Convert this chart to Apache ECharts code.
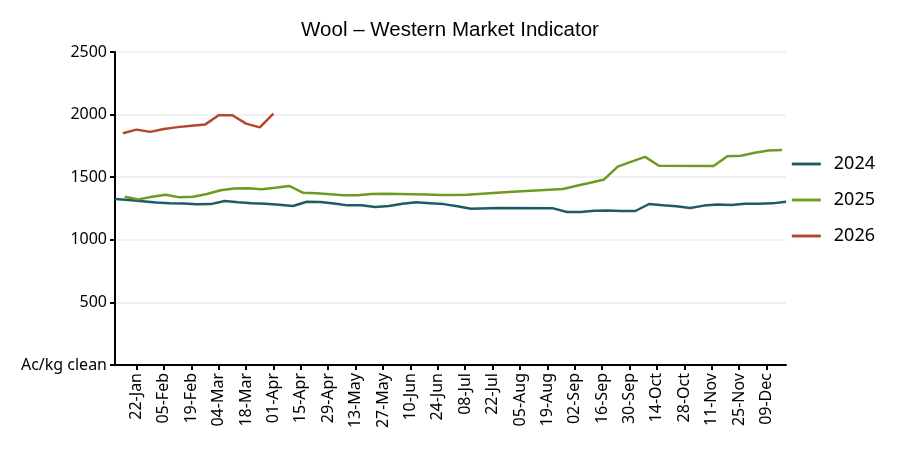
<!DOCTYPE html>
<html>
<head>
<meta charset="utf-8">
<script src="https://cdn.jsdelivr.net/npm/echarts@6/dist/echarts.min.js"></script>
<style>html,body{margin:0;padding:0;background:#fff}#c{width:900px;height:450px}</style>
</head>
<body>
<div id="c"></div>
<script>
// ---- data (dates mapped onto a common calendar year) ----
const xTickLabels = ['22-Jan','05-Feb','19-Feb','04-Mar','18-Mar','01-Apr','15-Apr','29-Apr','13-May','27-May','10-Jun','24-Jun',
  '08-Jul','22-Jul','05-Aug','19-Aug','02-Sep','16-Sep','30-Sep','14-Oct','28-Oct','11-Nov','25-Nov','09-Dec'];
const xMinDate = '11-Jan';
const xMaxDate = '19-Dec';

const dates2024 = ['11-Jan','18-Jan','25-Jan','01-Feb','08-Feb','15-Feb','22-Feb','29-Feb','07-Mar','14-Mar','21-Mar','28-Mar',
  '04-Apr','11-Apr','18-Apr','25-Apr','02-May','09-May','16-May','23-May','30-May','06-Jun','13-Jun','20-Jun','27-Jun',
  '04-Jul','11-Jul','25-Jul','22-Aug','29-Aug','05-Sep','12-Sep','19-Sep','26-Sep','03-Oct','10-Oct','17-Oct','24-Oct',
  '31-Oct','07-Nov','14-Nov','21-Nov','28-Nov','05-Dec','12-Dec','19-Dec'];
const values2024 = [1326,1318,1308,1298,1292,1290,1283,1285,1310,1300,1291,1287,
  1280,1270,1304,1302,1290,1275,1276,1262,1270,1288,1299,1292,1285,
  1268,1248,1254,1251,1222,1222,1232,1235,1230,1230,1286,1276,1268,
  1254,1273,1281,1278,1288,1288,1291,1304];

const dates2025 = ['16-Jan','23-Jan','30-Jan','06-Feb','13-Feb','20-Feb','27-Feb','05-Mar','12-Mar','19-Mar','26-Mar',
  '02-Apr','09-Apr','16-Apr','23-Apr','30-Apr','07-May','14-May','21-May','28-May','04-Jun','11-Jun','18-Jun','25-Jun',
  '02-Jul','09-Jul','30-Jul','27-Aug','03-Sep','10-Sep','17-Sep','24-Sep','01-Oct','08-Oct','15-Oct','12-Nov',
  '19-Nov','26-Nov','03-Dec','10-Dec','17-Dec'];
const values2025 = [1344,1323,1344,1360,1339,1344,1366,1396,1410,1411,1403,
  1416,1430,1376,1372,1364,1355,1355,1366,1368,1366,1364,1362,1358,
  1358,1360,1382,1406,1432,1455,1482,1584,1624,1662,1592,1589,
  1668,1672,1695,1714,1717];

const dates2026 = ['15-Jan','22-Jan','29-Jan','05-Feb','12-Feb','19-Feb','26-Feb','04-Mar','11-Mar','18-Mar','25-Mar','01-Apr'];
const values2026 = [1851,1880,1862,1885,1900,1910,1920,1995,1995,1928,1898,2008];

const seriesNames = ['2024','2025','2026'];
const yTicks = [0,500,1000,1500,2000,2500];
const yZeroLabel = 'Ac/kg clean';
const titleText = 'Wool – Western Market Indicator';

// ---- helpers ----
const MON = ['Jan','Feb','Mar','Apr','May','Jun','Jul','Aug','Sep','Oct','Nov','Dec'];
function ts(s){ const p = s.split('-'); return Date.UTC(2024, MON.indexOf(p[1]), +p[0]); }
function fmt(v){ const d = new Date(v); const dd = String(d.getUTCDate()).padStart(2,'0'); return dd + '-' + MON[d.getUTCMonth()]; }
function pairs(ds, vs){ return ds.map((d,i)=>[ts(d), vs[i]]); }

const colors = ['#1d5c63','#6e9a22','#b4462c'];
const FONT = '"Noto Sans", "Open Sans", sans-serif';
const tickVals = xTickLabels.map(ts);
const lineIcon = 'path://M0,0H30V3H0Z';

const chart = echarts.init(document.getElementById('c'), null, {renderer:'canvas'});
chart.setOption({
  animation:false,
  backgroundColor:'#fff',
  color: colors,
  title:{ text:titleText, left:'center', top:15, textStyle:{ fontFamily:'"Liberation Sans", Arial, sans-serif', fontSize:20.5, fontWeight:'normal', color:'#000' } },
  legend:{ orient:'vertical', right:20, top:150, itemGap:18, itemWidth:29, itemHeight:3,
    data: seriesNames.map(n=>({ name:n, icon: lineIcon })),
    textStyle:{ fontFamily:FONT, fontSize:18, color:'#000', padding:[0,0,0,8] } },
  grid:{ left:115, right:114, top:52, bottom:85, containLabel:false },
  xAxis:{ type:'value', min:ts(xMinDate), max:ts(xMaxDate),
    axisLine:{ show:true, onZero:false, lineStyle:{ color:'#000', width:2 } },
    axisTick:{ show:true, customValues: tickVals, length:5, lineStyle:{ color:'#000', width:2 } },
    axisLabel:{ customValues: tickVals, rotate:90, formatter: v=>fmt(v), fontFamily:FONT, fontSize:16, color:'#000', margin:8 },
    splitLine:{ show:false } },
  yAxis:{ type:'value', min:yTicks[0], max:yTicks[yTicks.length-1], interval:500,
    axisLine:{ show:true, lineStyle:{ color:'#000', width:2 } },
    axisTick:{ show:true, length:5, lineStyle:{ color:'#000', width:2 } },
    axisLabel:{ formatter: v => v===0 ? yZeroLabel : String(v), fontFamily:FONT, fontSize:16, color:'#000', margin:8 },
    splitLine:{ show:true, lineStyle:{ color:'#ececec', width:1.5 } } },
  series:[
    { name:seriesNames[0], type:'line', symbol:'none', data:pairs(dates2024, values2024), lineStyle:{ width:2.5 } },
    { name:seriesNames[1], type:'line', symbol:'none', data:pairs(dates2025, values2025), lineStyle:{ width:2.5 } },
    { name:seriesNames[2], type:'line', symbol:'none', data:pairs(dates2026, values2026), lineStyle:{ width:2.5 } }
  ]
});
</script>
</body>
</html>
